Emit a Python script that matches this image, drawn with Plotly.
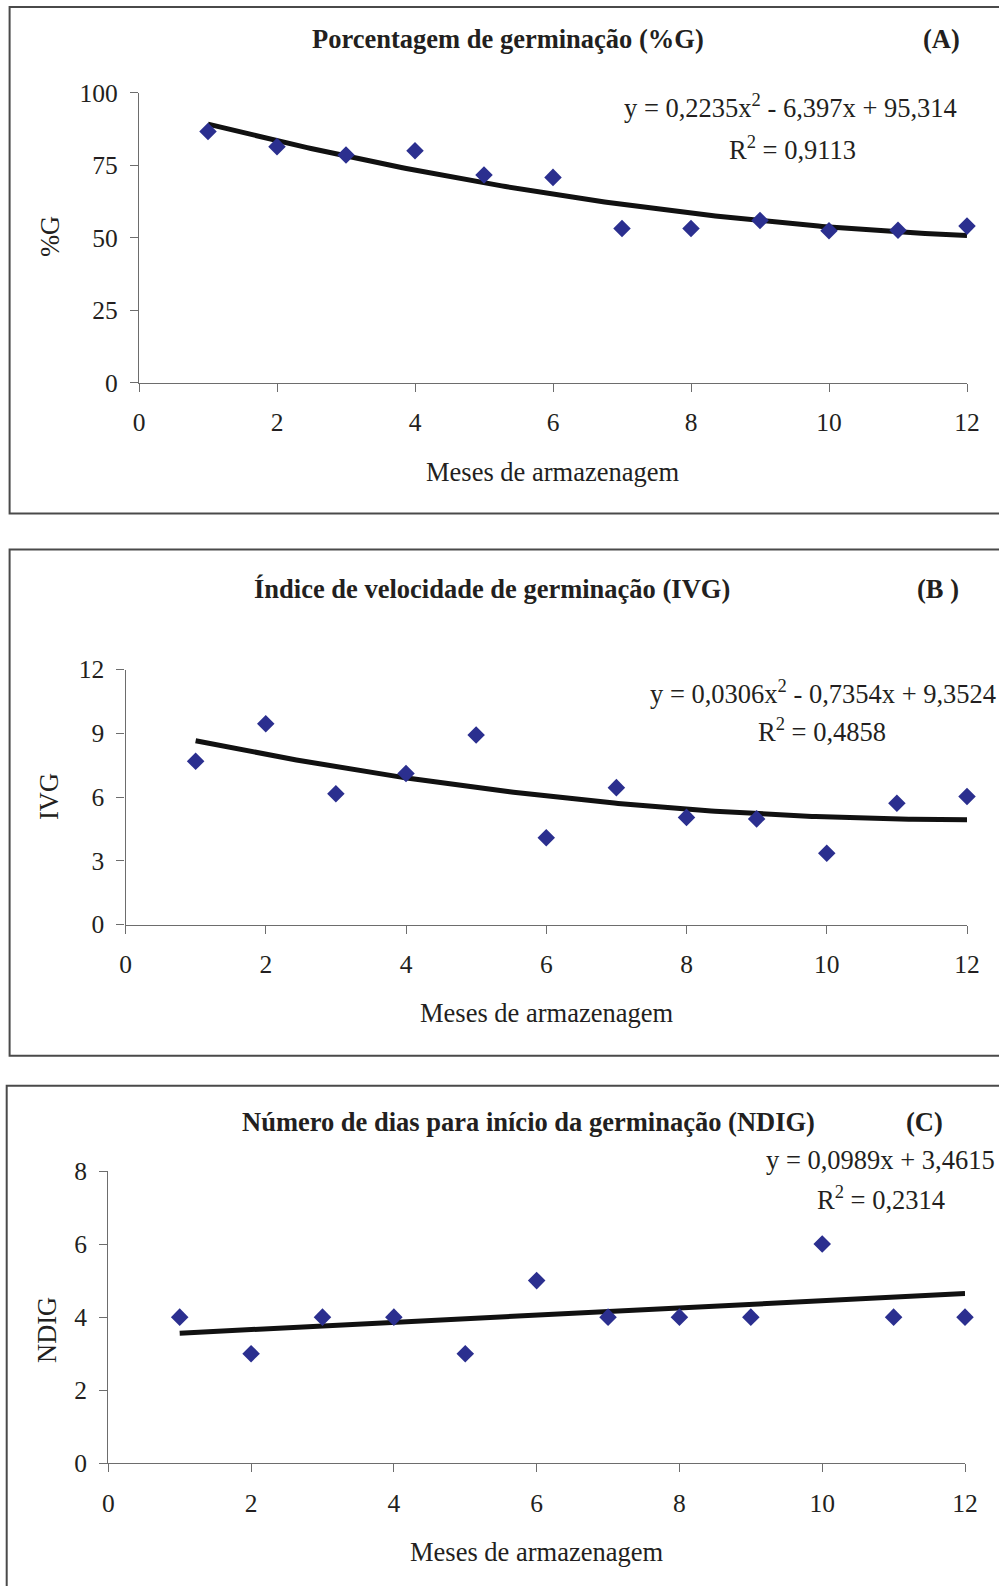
import numpy as np
import plotly.graph_objects as go

W, H = 999, 1586

months = [1, 2, 3, 4, 5, 6, 7, 8, 9, 10, 11, 12]
pct_g = [86.6, 81.4, 78.5, 80.0, 71.6, 70.8, 53.2, 53.2, 55.9, 52.4, 52.6, 54.0]
ivg = [7.68, 9.45, 6.15, 7.11, 8.92, 4.08, 6.44, 5.04, 4.97, 3.35, 5.71, 6.02]
ndig = [4, 3, 4, 4, 3, 5, 4, 4, 4, 6, 4, 4]

# trend-line coefficients shown on the chart (highest power first)
coef_a = [0.2235, -6.397, 95.314]
coef_b = [0.0306, -0.7354, 9.3524]
coef_c = [0.0989, 3.4615]

titles = ["Porcentagem de germinação (%G)",
          "Índice de velocidade de germinação (IVG)",
          "Número de dias para início da germinação (NDIG)"]
tags = ["(A)", "(B )", "(C)"]
ylabels = ["%G", "IVG", "NDIG"]
xlabel = "Meses de armazenagem"
eq_texts = ["y = 0,2235x<sup>2</sup> - 6,397x + 95,314",
            "y = 0,0306x<sup>2</sup> - 0,7354x + 9,3524",
            "y = 0,0989x + 3,4615"]
r2_texts = ["R<sup>2</sup> = 0,9113", "R<sup>2</sup> = 0,4858", "R<sup>2</sup> = 0,2314"]
y_ranges = [(0, 100, 25), (0, 12, 3), (0, 8, 2)]

FONT = "Liberation Serif, Times New Roman, serif"
TXT = "#231F20"
MARK = "#2B2F8F"
FS = 26.5

def px_x(p):
    return p / W

def px_y(p):
    return 1 - p / H

# plot-area pixel boxes: (left, right, top(ymax), bottom(y=0))
boxes = [(139, 967, 92.7, 382.7),
         (125.5, 967, 669.5, 924.5),
         (108.3, 965, 1171, 1463.3)]

fig = go.Figure()
series = [pct_g, ivg, ndig]
coefs = [coef_a, coef_b, coef_c]
xs = np.linspace(1, 12, 200)

for i in range(3):
    ax = "" if i == 0 else str(i + 1)
    xa, ya = "x" + ax, "y" + ax
    fig.add_trace(go.Scatter(x=xs, y=np.polyval(coefs[i], xs), mode="lines",
                             line=dict(color="#111111", width=5),
                             xaxis=xa, yaxis=ya, showlegend=False, hoverinfo="skip",
                             cliponaxis=False))
    fig.add_trace(go.Scatter(x=months, y=series[i], mode="markers",
                             marker=dict(symbol="diamond", size=13.5, color=MARK),
                             xaxis=xa, yaxis=ya, showlegend=False, cliponaxis=False))
    l, r, t, b = boxes[i]
    y0, y1, dt = y_ranges[i]
    common = dict(showgrid=False, zeroline=False, showline=True, linecolor="#6d6d6d",
                  linewidth=1.3, ticks="outside", ticklen=8, tickwidth=1.3,
                  tickcolor="#6d6d6d", automargin=False,
                  tickfont=dict(family=FONT, size=25.5, color=TXT))
    fig.layout["xaxis" + ax] = dict(domain=[px_x(l), px_x(r)], range=[0, 12],
                                    tickmode="linear", tick0=0, dtick=2,
                                    anchor=ya, ticklabelstandoff=9, **common)
    fig.layout["yaxis" + ax] = dict(domain=[px_y(b), px_y(t)], range=[y0, y1],
                                    tickmode="linear", tick0=0, dtick=dt,
                                    anchor=xa, ticklabelstandoff=7, **common)

def ann(text, x, y, size=FS, bold=False, xanchor="center", angle=0):
    if bold:
        text = "<b>" + text + "</b>"
    fig.add_annotation(text=text, x=px_x(x), y=px_y(y), xref="paper", yref="paper",
                       xanchor=xanchor, yanchor="middle", showarrow=False,
                       textangle=angle,
                       font=dict(family=FONT, size=size, color=TXT))

title_pos = [(508, 39), (492, 589), (528, 1122)]
tag_pos = [(941, 39), (938, 589), (924, 1122)]
eq_pos = [(622, 106, "left"), (648, 692, "left"), (764, 1160, "left")]
r2_pos = [(792, 148), (822, 730), (881, 1198)]
ylab_pos = [(50, 237), (49, 797), (47, 1330)]
xlab_pos = [(552, 472), (546, 1013), (536, 1552)]

for i in range(3):
    ann(titles[i], *title_pos[i], size=FS, bold=True)
    ann(tags[i], *tag_pos[i], size=FS, bold=True)
    ann(eq_texts[i], eq_pos[i][0], eq_pos[i][1], xanchor=eq_pos[i][2])
    ann(r2_texts[i], *r2_pos[i])
    ann(ylabels[i], *ylab_pos[i], angle=-90)
    ann(xlabel, *xlab_pos[i])

# panel frames (open on the right, as in the scanned figure)
frames = [(9.6, 7, 513.5), (9.6, 549.5, 1055.7), (6.7, 1085.7, 1600)]
for (l, t, b) in frames:
    fig.add_shape(type="rect", xref="paper", yref="paper",
                  x0=px_x(l), x1=px_x(1010), y0=px_y(b), y1=px_y(t),
                  line=dict(color="#4a4a4a", width=2))

fig.update_layout(width=W, height=H,
                  margin=dict(l=0, r=0, t=0, b=0, pad=0, autoexpand=False),
                  paper_bgcolor="white", plot_bgcolor="white")
fig.write_html("out.html", config={"displayModeBar": False},
               post_script="document.body.style.margin='0px';document.body.style.overflow='hidden';")
